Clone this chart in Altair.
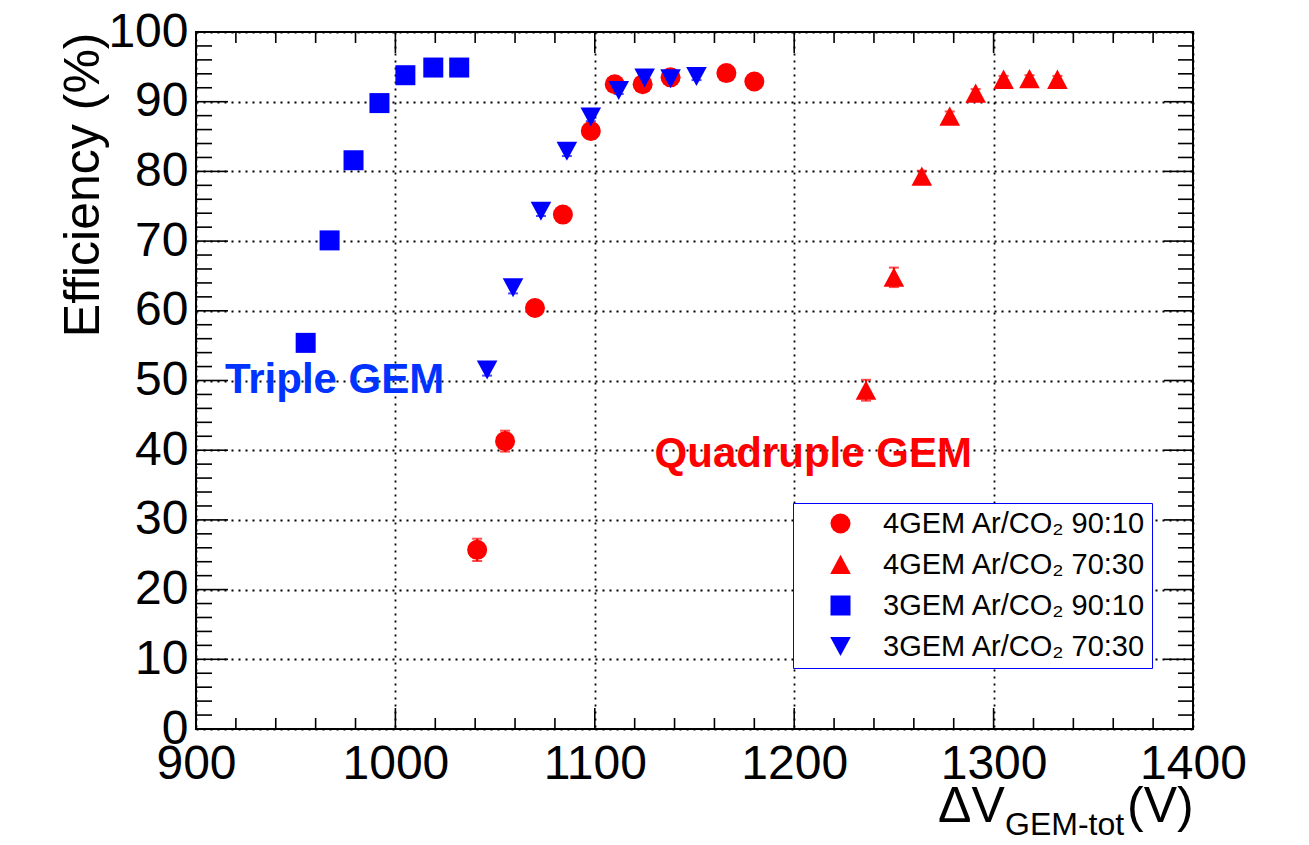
import altair as alt
import pandas as pd

# ---------------- data ----------------
series_names = ["4GEM Ar/CO₂ 90:10", "4GEM Ar/CO₂ 70:30",
                "3GEM Ar/CO₂ 90:10", "3GEM Ar/CO₂ 70:30"]
series_colors = ["#ff0000", "#ff0000", "#0000ff", "#0000ff"]
# circle, triangle-up, square, triangle-down (unit paths)
series_shapes = ["circle",
                 "M0,-0.98L1.03,0.95L-1.03,0.95Z",
                 "square",
                 "M-1.03,-0.95L1.03,-0.95L0,0.95Z"]

v_4gem_9010 = [1041, 1055, 1070, 1084, 1098, 1110, 1124, 1138, 1166, 1180]
e_4gem_9010 = [25.7, 41.3, 60.4, 73.8, 85.8, 92.5, 92.5, 93.5, 94.1, 92.9]
err_4gem_9010 = [1.6, 1.5, 0.9, 0.8, 0.7, 0.6, 0.6, 0.6, 0.5, 0.5]

v_4gem_7030 = [1236, 1250, 1264, 1278, 1291, 1305, 1318, 1332]
e_4gem_7030 = [48.6, 64.8, 79.3, 87.9, 91.2, 93.2, 93.3, 93.2]
err_4gem_7030 = [1.5, 1.4, 0.8, 0.7, 0.6, 0.5, 0.5, 0.5]

v_3gem_9010 = [955, 967, 979, 992, 1005, 1019, 1032]
e_3gem_9010 = [55.4, 70.1, 81.6, 89.8, 93.8, 94.9, 94.9]
err_3gem_9010 = [0.8, 0.8, 0.7, 0.6, 0.5, 0.5, 0.5]

v_3gem_7030 = [1046, 1059, 1073, 1086, 1098, 1112, 1125, 1138, 1151]
e_3gem_7030 = [51.5, 63.3, 74.3, 82.9, 87.8, 91.6, 93.4, 93.3, 93.6]
err_3gem_7030 = [0.8, 0.8, 0.7, 0.7, 0.6, 0.5, 0.5, 0.5, 0.5]

x_major = [900, 1000, 1100, 1200, 1300, 1400]
x_minor = [v for v in range(900, 1401, 20) if v % 100 != 0]
y_major = [0, 10, 20, 30, 40, 50, 60, 70, 80, 90, 100]
y_minor = [v for v in range(0, 101, 2) if v % 10 != 0]

annot_text = ["Triple GEM", "Quadruple GEM"]
annot_v = [914.5, 1130]
annot_e = [48.2, 37.6]
annot_color = ["#0033ff", "#ff0000"]

# ---------------- build tables ----------------
rows = []
for k, (name, vs, es, errs) in enumerate([
    (series_names[0], v_4gem_9010, e_4gem_9010, err_4gem_9010),
    (series_names[1], v_4gem_7030, e_4gem_7030, err_4gem_7030),
    (series_names[2], v_3gem_9010, e_3gem_9010, err_3gem_9010),
    (series_names[3], v_3gem_7030, e_3gem_7030, err_3gem_7030),
]):
    for v, e, er in zip(vs, es, errs):
        rows.append({"series": name, "ord": k, "v": v, "e": e,
                     "lo": e - er, "hi": e + er})
df = pd.DataFrame(rows)

W, H = 997, 697
FONT = "Liberation Sans"

xs = alt.Scale(domain=[900, 1400], nice=False, zero=False)
ys = alt.Scale(domain=[0, 100], nice=False, zero=False)

xaxis = alt.Axis(values=x_major, format="d", title=None, ticks=False,
                 domain=False, grid=True, gridColor="black", gridDash=[2, 5],
                 gridWidth=1.8, gridOpacity=1, labelFontSize=48,
                 labelFont=FONT, labelColor="black", labelPadding=11,
                 labelFlush=False, labelOverlap=False, labelBound=False)
yaxis = alt.Axis(values=y_major, format="d", title="Efficiency (%)",
                 ticks=False, domain=False, grid=True, gridColor="black",
                 gridDash=[2, 5], gridWidth=1.8, gridOpacity=1,
                 labelFontSize=48, labelFont=FONT, labelColor="black",
                 labelPadding=8, labelOverlap=False, labelBound=False,
                 titleFont=FONT, titleFontSize=50, titleFontWeight="normal",
                 titleColor="black", titleAngle=270, titleAlign="right",
                 titleBaseline="alphabetic", titleX=-98, titleY=0)


def X(field):
    return alt.X(field, type="quantitative", scale=xs, axis=xaxis)


def Y(field):
    return alt.Y(field, type="quantitative", scale=ys, axis=yaxis)


legend = alt.Legend(title=None)
color_enc = alt.Color("series:N",
                      scale=alt.Scale(domain=series_names, range=series_colors),
                      legend=legend)
shape_enc = alt.Shape("series:N",
                      scale=alt.Scale(domain=series_names, range=series_shapes),
                      legend=legend)

errbars = alt.Chart(df).mark_errorbar(ticks=True, size=10, thickness=2).encode(
    x=X("v"), y=Y("lo"), y2="hi", color=color_enc,
)

points = alt.Chart(df).mark_point(filled=True, size=400, opacity=1,
                                  strokeWidth=0).encode(
    x=X("v"), y=Y("e"), color=color_enc, shape=shape_enc,
    order=alt.Order("ord:Q"),
)

# ticks (ROOT style: pointing inwards on all four sides)
xt_major = pd.DataFrame({"v": x_major})
xt_minor = pd.DataFrame({"v": x_minor})
yt_major = pd.DataFrame({"e": y_major})
yt_minor = pd.DataFrame({"e": y_minor})


def xticks(d, length):
    bottom = alt.Chart(d).mark_rule(color="black", strokeWidth=1.6).encode(
        x=X("v"), y=alt.value(H), y2=alt.value(H - length))
    top = alt.Chart(d).mark_rule(color="black", strokeWidth=1.6).encode(
        x=X("v"), y=alt.value(0), y2=alt.value(length))
    return [bottom, top]


def yticks(d, length_left, length_right):
    left = alt.Chart(d).mark_rule(color="black", strokeWidth=1.6).encode(
        y=Y("e"), x=alt.value(0), x2=alt.value(length_left))
    right = alt.Chart(d).mark_rule(color="black", strokeWidth=1.6).encode(
        y=Y("e"), x=alt.value(W), x2=alt.value(W - length_right))
    return [left, right]


tick_layers = (xticks(xt_major, 21) + xticks(xt_minor, 11)
               + yticks(yt_major, 32, 29) + yticks(yt_minor, 16, 15))

annot_layers = []
for t, v, e, c in zip(annot_text, annot_v, annot_e, annot_color):
    annot_layers.append(
        alt.Chart(pd.DataFrame({"t": [t], "v": [v], "e": [e]})).mark_text(
            align="left", baseline="alphabetic", font=FONT, fontSize=42,
            fontWeight="bold", color=c).encode(x=X("v"), y=Y("e"), text="t:N"))

# x-axis title with subscript: ΔV_GEM-tot(V)
xt1 = alt.Chart(pd.DataFrame({"t": ["ΔV"]})).mark_text(
    align="left", baseline="alphabetic", font=FONT, fontSize=50,
    color="black").encode(x=alt.value(742), y=alt.value(790), text="t:N")
xt2 = alt.Chart(pd.DataFrame({"t": ["GEM-tot"]})).mark_text(
    align="left", baseline="alphabetic", font=FONT, fontSize=32,
    color="black").encode(x=alt.value(809), y=alt.value(803), text="t:N")
xt3 = alt.Chart(pd.DataFrame({"t": ["(V)"]})).mark_text(
    align="left", baseline="alphabetic", font=FONT, fontSize=50,
    color="black").encode(x=alt.value(931), y=alt.value(790), text="t:N")

chart = alt.layer(
    *tick_layers, *annot_layers, errbars, points, xt1, xt2, xt3
).properties(
    width=W, height=H,
    autosize=alt.AutoSizeParams(type="none"),
    padding={"left": 196, "top": 32, "right": 112, "bottom": 116},
    background="white",
).configure_view(
    stroke="black", strokeWidth=2
).configure_legend(
    orient="none", legendX=597, legendY=471,
    strokeColor="#0000ff", fillColor="white", padding=6,
    symbolOffset=27, labelOffset=28, symbolSize=400, symbolStrokeWidth=0,
    symbolOpacity=1,
    labelFontSize=29, labelFont=FONT, labelColor="black", rowPadding=11,
    labelLimit=400,
)

chart.save("out.html", embed_options={"renderer": "svg", "actions": False})
